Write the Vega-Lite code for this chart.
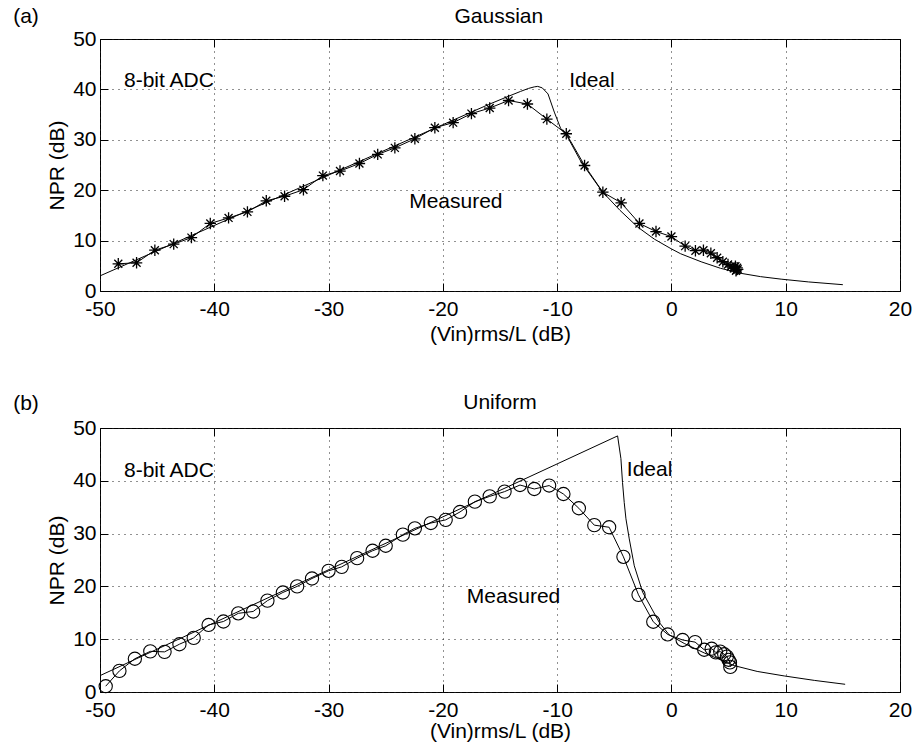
{
  "$schema": "https://vega.github.io/schema/vega-lite/v6.json",
  "background": "white",
  "padding": {"left": 12, "top": 5, "right": 5, "bottom": 0},
  "config": {
    "font": "Liberation Sans",
    "view": {"stroke": "black", "strokeWidth": 1},
    "axis": {
      "labelFont": "Liberation Sans", "labelFontSize": 21, "labelColor": "black", "labelFlush": false,
      "titleFont": "Liberation Sans", "titleFontSize": 21, "titleFontWeight": "normal", "titleColor": "black",
      "domain": false, "tickColor": "black", "tickSize": -8, "tickWidth": 1,
      "gridColor": "#222", "gridDash": [1, 5], "gridWidth": 1, "gridOpacity": 1
    }
  },
  "datasets": {
    "gi": [
      {"x": -50, "y": 3.0}, {"x": -40, "y": 13.0}, {"x": -30, "y": 23.0}, {"x": -20, "y": 33.0},
      {"x": -16, "y": 37.0}, {"x": -14.3, "y": 38.6}, {"x": -13.2, "y": 39.6}, {"x": -12.5, "y": 40.2},
      {"x": -12, "y": 40.5}, {"x": -11.7, "y": 40.6}, {"x": -11.3, "y": 40.3}, {"x": -10.8, "y": 39.1},
      {"x": -10.25, "y": 35.5}, {"x": -9.7, "y": 32.3}, {"x": -9.1, "y": 30.6}, {"x": -7.9, "y": 25.6},
      {"x": -6.08, "y": 19.8}, {"x": -4.5, "y": 16.0}, {"x": -2.96, "y": 12.7}, {"x": -1.5, "y": 10.3},
      {"x": -0.04, "y": 8.4}, {"x": 0.8, "y": 7.4}, {"x": 2.6, "y": 5.8}, {"x": 4.3, "y": 4.5},
      {"x": 6.1, "y": 3.5}, {"x": 7.8, "y": 2.85}, {"x": 9.6, "y": 2.35}, {"x": 12, "y": 1.8}, {"x": 15, "y": 1.25}
    ],
    "gm": [
      {"x": -48.4, "y": 5.4}, {"x": -46.8, "y": 5.6}, {"x": -45.2, "y": 8.1}, {"x": -43.55, "y": 9.3},
      {"x": -42.0, "y": 10.6}, {"x": -40.35, "y": 13.4}, {"x": -38.75, "y": 14.5}, {"x": -37.1, "y": 15.7},
      {"x": -35.45, "y": 17.9}, {"x": -33.85, "y": 18.8}, {"x": -32.2, "y": 20.1}, {"x": -30.5, "y": 22.9},
      {"x": -29.0, "y": 23.8}, {"x": -27.3, "y": 25.3}, {"x": -25.7, "y": 27.1}, {"x": -24.2, "y": 28.4},
      {"x": -22.45, "y": 30.2}, {"x": -20.7, "y": 32.4}, {"x": -19.1, "y": 33.4}, {"x": -17.5, "y": 35.2},
      {"x": -15.9, "y": 36.3}, {"x": -14.25, "y": 37.8}, {"x": -12.6, "y": 37.1}, {"x": -10.9, "y": 34.1},
      {"x": -9.2, "y": 31.2}, {"x": -7.6, "y": 24.9}, {"x": -6.0, "y": 19.6}, {"x": -4.4, "y": 17.5},
      {"x": -2.8, "y": 13.4}, {"x": -1.35, "y": 11.8}, {"x": 0.0, "y": 10.8}, {"x": 1.2, "y": 8.9},
      {"x": 2.1, "y": 8.0}, {"x": 2.8, "y": 8.1}, {"x": 3.45, "y": 7.5}, {"x": 4.0, "y": 6.6},
      {"x": 4.5, "y": 5.8}, {"x": 4.95, "y": 5.25}, {"x": 5.2, "y": 4.8}, {"x": 5.45, "y": 4.5},
      {"x": 5.6, "y": 4.9}, {"x": 5.65, "y": 4.0}, {"x": 5.7, "y": 4.2}, {"x": 5.75, "y": 4.6}, {"x": 5.8, "y": 4.3}
    ],
    "ui": [
      {"x": -50, "y": 3.1}, {"x": -4.71, "y": 48.5}, {"x": -4.42, "y": 44.2}, {"x": -4.28, "y": 39.7},
      {"x": -4.13, "y": 35.9}, {"x": -3.98, "y": 32.8}, {"x": -3.69, "y": 29.0}, {"x": -3.25, "y": 23.9},
      {"x": -2.52, "y": 18.9}, {"x": -1.07, "y": 13.2}, {"x": -0.19, "y": 10.8}, {"x": 1.12, "y": 9.2},
      {"x": 2.87, "y": 7.4}, {"x": 5.49, "y": 5.0}, {"x": 7.5, "y": 3.9}, {"x": 9.87, "y": 3.04},
      {"x": 12.5, "y": 2.2}, {"x": 15.2, "y": 1.46}
    ],
    "um": [
      {"x": -49.5, "y": 1.1}, {"x": -48.3, "y": 4.0}, {"x": -46.95, "y": 6.3}, {"x": -45.6, "y": 7.7},
      {"x": -44.35, "y": 7.6}, {"x": -43.05, "y": 9.05}, {"x": -41.8, "y": 10.25}, {"x": -40.5, "y": 12.7},
      {"x": -39.2, "y": 13.35}, {"x": -37.9, "y": 14.9}, {"x": -36.6, "y": 15.25}, {"x": -35.35, "y": 17.3},
      {"x": -34.0, "y": 18.85}, {"x": -32.75, "y": 20.0}, {"x": -31.45, "y": 21.5}, {"x": -30.0, "y": 22.95},
      {"x": -28.85, "y": 23.7}, {"x": -27.5, "y": 25.35}, {"x": -26.15, "y": 26.75}, {"x": -25.0, "y": 27.7},
      {"x": -23.5, "y": 29.8}, {"x": -22.45, "y": 31.0}, {"x": -21.05, "y": 32.0}, {"x": -19.75, "y": 32.6},
      {"x": -18.5, "y": 34.1}, {"x": -17.2, "y": 36.05}, {"x": -15.9, "y": 37.05}, {"x": -14.6, "y": 37.95},
      {"x": -13.25, "y": 39.2}, {"x": -12.0, "y": 38.45}, {"x": -10.7, "y": 39.1}, {"x": -9.45, "y": 37.5},
      {"x": -8.1, "y": 34.8}, {"x": -6.75, "y": 31.6}, {"x": -5.45, "y": 31.2}, {"x": -4.2, "y": 25.6},
      {"x": -2.88, "y": 18.4}, {"x": -1.59, "y": 13.3}, {"x": -0.33, "y": 10.9}, {"x": 0.98, "y": 9.85},
      {"x": 2.07, "y": 9.45}, {"x": 2.87, "y": 8.0}, {"x": 3.52, "y": 8.2}, {"x": 3.89, "y": 7.5},
      {"x": 4.27, "y": 7.65}, {"x": 4.62, "y": 7.15}, {"x": 4.85, "y": 6.7}, {"x": 5.0, "y": 6.1},
      {"x": 5.12, "y": 5.6}, {"x": 5.15, "y": 4.75}
    ],
    "glab": [
      {"label": "(a)", "x": -57.6, "y": 54.3},
      {"label": "8-bit ADC", "x": -47.9, "y": 41.7},
      {"label": "Ideal", "x": -8.95, "y": 41.7},
      {"label": "Measured", "x": -22.95, "y": 17.7}
    ],
    "gtitle": [
      {"label": "Gaussian", "x": -15.1, "y": 54.4}
    ],
    "ulab": [
      {"label": "(b)", "x": -57.6, "y": 54.5},
      {"label": "8-bit ADC", "x": -47.9, "y": 41.9},
      {"label": "Ideal", "x": -3.9, "y": 42.1},
      {"label": "Measured", "x": -17.9, "y": 17.9}
    ],
    "utitle": [
      {"label": "Uniform", "x": -15.0, "y": 54.8}
    ]
  },
  "spacing": 46,
  "vconcat": [
    {
      "width": 800, "height": 252,
      "layer": [
        {
          "data": {"name": "gi"},
          "mark": {"type": "line", "color": "black", "strokeWidth": 1},
          "encoding": {
            "x": {"field": "x", "type": "quantitative", "scale": {"domain": [-50, 20], "nice": false},
              "title": "(Vin)rms/L (dB)",
              "axis": {"orient": "bottom", "values": [-50, -40, -30, -20, -10, 0, 10, 20], "labelPadding": 15, "titlePadding": 4,
                "labelExpr": "datum.value < 0 ? datum.value + '\u2003' : '' + datum.value"}},
            "y": {"field": "y", "type": "quantitative", "scale": {"domain": [0, 50], "nice": false},
              "title": "NPR (dB)",
              "axis": {"orient": "left", "values": [0, 10, 20, 30, 40, 50], "labelPadding": 12, "titlePadding": 5}}
          }
        },
        {
          "data": {"name": "gm"},
          "mark": {"type": "line", "color": "black", "strokeWidth": 1},
          "encoding": {
            "x": {"field": "x", "type": "quantitative", "axis": {"orient": "top", "labels": false, "grid": false, "title": null, "values": [-50, -40, -30, -20, -10, 0, 10, 20]}},
            "y": {"field": "y", "type": "quantitative", "axis": {"orient": "right", "labels": false, "grid": false, "title": null, "values": [0, 10, 20, 30, 40, 50]}}
          }
        },
        {
          "data": {"name": "gm"},
          "mark": {"type": "point", "shape": "M-1,0L1,0M0,-1L0,1M-0.7,-0.7L0.7,0.7M-0.7,0.7L0.7,-0.7", "filled": false, "stroke": "black", "strokeWidth": 1.3, "size": 130, "opacity": 1},
          "encoding": {
            "x": {"field": "x", "type": "quantitative", "axis": null},
            "y": {"field": "y", "type": "quantitative", "axis": null}
          }
        },
        {
          "data": {"name": "glab"},
          "mark": {"type": "text", "align": "left", "baseline": "middle", "fontSize": 21, "font": "Liberation Sans", "color": "black"},
          "encoding": {
            "x": {"field": "x", "type": "quantitative", "axis": null},
            "y": {"field": "y", "type": "quantitative", "axis": null},
            "text": {"field": "label"}
          }
        },
        {
          "data": {"name": "gtitle"},
          "mark": {"type": "text", "align": "center", "baseline": "middle", "fontSize": 21, "font": "Liberation Sans", "color": "black"},
          "encoding": {
            "x": {"field": "x", "type": "quantitative", "axis": null},
            "y": {"field": "y", "type": "quantitative", "axis": null},
            "text": {"field": "label"}
          }
        }
      ],
      "resolve": {"axis": {"x": "independent", "y": "independent"}}
    },
    {
      "width": 800, "height": 264,
      "layer": [
        {
          "data": {"name": "ui"},
          "mark": {"type": "line", "color": "black", "strokeWidth": 1},
          "encoding": {
            "x": {"field": "x", "type": "quantitative", "scale": {"domain": [-50, 20], "nice": false},
              "title": "(Vin)rms/L (dB)",
              "axis": {"orient": "bottom", "values": [-50, -40, -30, -20, -10, 0, 10, 20], "labelPadding": 15, "titlePadding": 0,
                "labelExpr": "datum.value < 0 ? datum.value + '\u2003' : '' + datum.value"}},
            "y": {"field": "y", "type": "quantitative", "scale": {"domain": [0, 50], "nice": false},
              "title": "NPR (dB)",
              "axis": {"orient": "left", "values": [0, 10, 20, 30, 40, 50], "labelPadding": 12, "titlePadding": 5}}
          }
        },
        {
          "data": {"name": "um"},
          "mark": {"type": "line", "color": "black", "strokeWidth": 1},
          "encoding": {
            "x": {"field": "x", "type": "quantitative", "axis": {"orient": "top", "labels": false, "grid": false, "title": null, "values": [-50, -40, -30, -20, -10, 0, 10, 20]}},
            "y": {"field": "y", "type": "quantitative", "axis": {"orient": "right", "labels": false, "grid": false, "title": null, "values": [0, 10, 20, 30, 40, 50]}}
          }
        },
        {
          "data": {"name": "um"},
          "mark": {"type": "point", "shape": "circle", "filled": false, "stroke": "black", "strokeWidth": 1.1, "size": 175, "opacity": 1},
          "encoding": {
            "x": {"field": "x", "type": "quantitative", "axis": null},
            "y": {"field": "y", "type": "quantitative", "axis": null}
          }
        },
        {
          "data": {"name": "ulab"},
          "mark": {"type": "text", "align": "left", "baseline": "middle", "fontSize": 21, "font": "Liberation Sans", "color": "black"},
          "encoding": {
            "x": {"field": "x", "type": "quantitative", "axis": null},
            "y": {"field": "y", "type": "quantitative", "axis": null},
            "text": {"field": "label"}
          }
        },
        {
          "data": {"name": "utitle"},
          "mark": {"type": "text", "align": "center", "baseline": "middle", "fontSize": 21, "font": "Liberation Sans", "color": "black"},
          "encoding": {
            "x": {"field": "x", "type": "quantitative", "axis": null},
            "y": {"field": "y", "type": "quantitative", "axis": null},
            "text": {"field": "label"}
          }
        }
      ],
      "resolve": {"axis": {"x": "independent", "y": "independent"}}
    }
  ]
}
